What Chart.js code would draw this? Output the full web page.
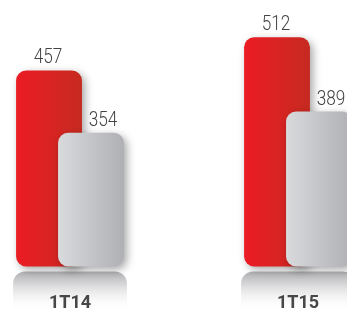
<!DOCTYPE html>
<html>
<head>
<meta charset="utf-8">
<script src="https://cdn.jsdelivr.net/npm/chart.js@4/dist/chart.umd.min.js"></script>
<style>
  html, body { margin: 0; padding: 0; background: #fff; overflow: hidden; }
  #wrap { position: relative; width: 347px; height: 340px; }
</style>
</head>
<body>
<div id="wrap"><canvas id="chart"></canvas></div>
<script>
const categories = ['1T14', '1T15'];
const redValues = [457, 512];
const grayValues = [354, 389];
const yMin = 133;
const yMax = 557;

// horizontal gradient across a bar, placed from the category pixel
function barGradient(ctx, from, to, c1, c2) {
  const chart = ctx.chart;
  const xScale = chart.scales.x;
  if (!xScale || !chart.chartArea) return c1;
  const px = xScale.getPixelForValue(ctx.dataIndex);
  const g = chart.ctx.createLinearGradient(px + from, 0, px + to, 0);
  g.addColorStop(0, c1);
  g.addColorStop(1, c2);
  return g;
}

// grey mirror plate under each pair of bars, behind the axis labels
const reflection = {
  id: 'reflection',
  beforeDraw(chart) {
    const c = chart.ctx;
    const m0 = chart.getDatasetMeta(0).data;
    const m1 = chart.getDatasetMeta(1).data;
    m0.forEach((el, i) => {
      const other = m1[i];
      if (!other) return;
      const left = Math.min(el.x - el.width / 2, other.x - other.width / 2) - 3;
      const right = Math.max(el.x + el.width / 2, other.x + other.width / 2) + 3;
      const top = el.base + 5;
      const h = 40;
      const g = c.createLinearGradient(0, top, 0, top + h);
      g.addColorStop(0, 'rgba(175,175,178,1)');
      g.addColorStop(0.4, 'rgba(220,220,222,0.9)');
      g.addColorStop(1, 'rgba(255,255,255,0)');
      c.save();
      c.fillStyle = g;
      c.beginPath();
      c.roundRect(left, top, right - left, h, [12, 12, 0, 0]);
      c.fill();
      c.restore();
    });
  }
};

function setShadow(c) {
  c.shadowColor = 'rgba(0,0,0,0.35)';
  c.shadowBlur = 8;
  c.shadowOffsetX = 3;
  c.shadowOffsetY = 3;
}

// red drawn first, gray on top of it
const layering = {
  id: 'layering',
  beforeDatasetDraw(chart, args) {
    if (args.index === 1) return false;
    chart.ctx.save();
    setShadow(chart.ctx);
  },
  afterDatasetDraw(chart, args) {
    if (args.index === 1) return;
    chart.ctx.restore();
  },
  afterDatasetsDraw(chart) {
    chart.ctx.save();
    setShadow(chart.ctx);
    chart.getDatasetMeta(1).controller.draw();
    chart.ctx.restore();
  }
};

const valueLabels = {
  id: 'valueLabels',
  afterDatasetsDraw(chart) {
    const c = chart.ctx;
    const shift = [-1, 12];
    chart.data.datasets.forEach((ds, d) => {
      chart.getDatasetMeta(d).data.forEach((el, i) => {
        c.save();
        c.translate(el.x + shift[d], el.y - 7);
        c.scale(0.82, 1);
        c.font = '300 21px Roboto, "Liberation Sans", sans-serif';
        c.fillStyle = '#444';
        c.textAlign = 'center';
        c.textBaseline = 'alphabetic';
        c.fillText(ds.data[i], 0, 0);
        c.restore();
      });
    });
  }
};

new Chart(document.getElementById('chart'), {
  type: 'bar',
  data: {
    labels: categories,
    datasets: [{
      data: redValues,
      backgroundColor: (ctx) => barGradient(ctx, -54, 12, '#ec1c24', '#c62a20'),
      borderRadius: 10,
      borderSkipped: false,
      barPercentage: 1.57,
      categoryPercentage: 0.368,
      base: yMin,
      clip: false
    }, {
      data: grayValues,
      backgroundColor: (ctx) => barGradient(ctx, -12, 54, '#d9dadc', '#afb0b4'),
      borderRadius: 10,
      borderSkipped: false,
      barPercentage: 1.57,
      categoryPercentage: 0.368,
      base: yMin,
      clip: false
    }]
  },
  options: {
    responsive: true,
    maintainAspectRatio: false,
    animation: false,
    layout: { padding: { left: 70, right: 49, top: 10, bottom: 0 } },
    plugins: {
      legend: { display: false },
      tooltip: { enabled: false }
    },
    scales: {
      x: {
        offset: false,
        grid: { display: false, drawTicks: false },
        border: { display: false },
        ticks: {
          padding: 26,
          color: '#474747',
          font: { family: 'Roboto, sans-serif', size: 18, weight: 'bold' }
        }
      },
      y: {
        display: false,
        min: yMin,
        max: yMax
      }
    }
  },
  plugins: [reflection, layering, valueLabels]
});
</script>
</body>
</html>
